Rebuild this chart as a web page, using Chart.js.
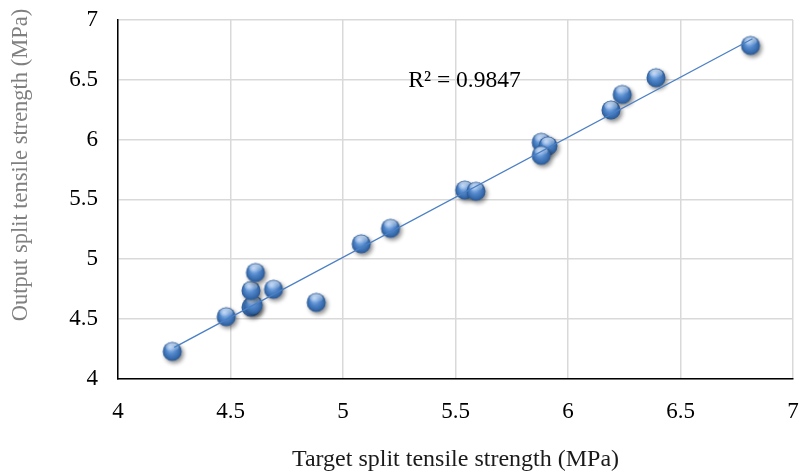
<!DOCTYPE html>
<html>
<head>
<meta charset="utf-8">
<script src="https://cdn.jsdelivr.net/npm/chart.js@4/dist/chart.umd.min.js"></script>
<style>
  html, body { margin: 0; padding: 0; background: #fff; overflow: hidden; }
  canvas { display: block; }
</style>
</head>
<body>
<canvas id="splitChart" width="800" height="472"></canvas>
<script>
// data
const targetVals = [4.25, 4.49, 4.60, 4.61, 4.60, 4.62, 4.70, 4.89, 5.09, 5.22, 5.55, 5.60, 5.89, 5.92, 5.89, 6.20, 6.25, 6.40, 6.82];
const outputVals = [4.21, 4.50, 4.58, 4.60, 4.72, 4.87, 4.73, 4.62, 5.11, 5.24, 5.56, 5.55, 5.96, 5.93, 5.85, 6.23, 6.36, 6.50, 6.77];
const axisTicks = [4, 4.5, 5, 5.5, 6, 6.5, 7];
const r2Label = "R² = 0.9847";
const yTitle = "Output split tensile strength (MPa)";

const serif = "'Liberation Serif', 'Times New Roman', serif";

// least squares trendline, from min to max x
function trend(xs, ys) {
    const n = xs.length;
    let sx = 0, sy = 0, sxx = 0, sxy = 0;
    for (let i = 0; i < n; i++) {
        sx += xs[i]; sy += ys[i]; sxx += xs[i] * xs[i]; sxy += xs[i] * ys[i];
    }
    const b = (n * sxy - sx * sy) / (n * sxx - sx * sx);
    const a = (sy - b * sx) / n;
    const lo = Math.min(...xs), hi = Math.max(...xs);
    return [{ x: lo, y: a + b * lo }, { x: hi, y: a + b * hi }];
}

// sphere-like marker
function makeBall() {
    const c = document.createElement("canvas");
    c.width = 30; c.height = 30;
    const g = c.getContext("2d");
    const cx = 13, cy = 13, r = 9.5;
    g.save();
    g.shadowColor = "rgba(0,0,0,0.45)";
    g.shadowBlur = 4;
    g.shadowOffsetX = 2;
    g.shadowOffsetY = 2.5;
    const grad = g.createRadialGradient(cx - 2, cy - 4, 1, cx, cy, r);
    grad.addColorStop(0, "#9cc0ee");
    grad.addColorStop(0.45, "#5288cc");
    grad.addColorStop(0.85, "#3467a8");
    grad.addColorStop(1, "#2a568f");
    g.fillStyle = grad;
    g.beginPath();
    g.arc(cx, cy, r, 0, Math.PI * 2);
    g.fill();
    g.restore();
    // highlight on top
    const h = g.createLinearGradient(0, cy - r, 0, cy);
    h.addColorStop(0, "rgba(255,255,255,0.75)");
    h.addColorStop(1, "rgba(255,255,255,0)");
    g.fillStyle = h;
    g.beginPath();
    g.ellipse(cx, cy - r * 0.45, r * 0.7, r * 0.45, 0, 0, Math.PI * 2);
    g.fill();
    return c;
}

const textPlugin = {
    id: "extraText",
    afterDatasetsDraw(chart) {
        const ctx = chart.ctx;
        const xs = chart.scales.x, ys = chart.scales.y;
        ctx.save();
        ctx.font = "23.5px " + serif;
        ctx.fillStyle = "#000";
        ctx.textAlign = "center";
        ctx.textBaseline = "middle";
        ctx.fillText(r2Label, xs.getPixelForValue(5.54), ys.getPixelForValue(6.49));
        // y axis title, sits a bit above the plot centre in the original
        ctx.translate(21, 165);
        ctx.rotate(-Math.PI / 2);
        ctx.font = "22.5px " + serif;
        ctx.fillStyle = "#808080";
        ctx.fillText(yTitle, 0, 0);
        ctx.restore();
    }
};

const points = targetVals.map((v, i) => ({ x: v, y: outputVals[i] }));

new Chart(document.getElementById("splitChart"), {
    type: "scatter",
    data: {
        datasets: [
            {
                type: "line",
                data: trend(targetVals, outputVals),
                borderColor: "#4a7fc4",
                borderWidth: 1.3,
                pointRadius: 0,
                fill: false,
                order: 0
            },
            {
                data: points,
                pointStyle: makeBall(),
                pointRadius: 10,
                order: 1
            }
        ]
    },
    options: {
        responsive: false,
        animation: false,
        layout: { autoPadding: false, padding: { left: 0, right: 7, top: 20, bottom: 0 } },
        plugins: {
            legend: { display: false },
            tooltip: { enabled: false }
        },
        scales: {
            x: {
                type: "linear",
                min: 4,
                max: 7,
                afterBuildTicks: s => { s.ticks = axisTicks.map(v => ({ value: v })); },
                afterFit: s => { s.height = 93.5; },
                ticks: {
                    color: "#000",
                    font: { family: serif, size: 23 },
                    padding: 0,
                    callback: v => String(v)
                },
                grid: { color: "#d9d9d9", lineWidth: 1.5, drawTicks: true, tickLength: 20, tickColor: "rgba(0,0,0,0)" },
                border: { color: "#000", width: 1.5 },
                title: {
                    display: true,
                    text: "Target split tensile strength (MPa)",
                    color: "#1a1a1a",
                    font: { family: serif, size: 24, lineHeight: 1.0 },
                    padding: { top: 0, bottom: 0 }
                }
            },
            y: {
                type: "linear",
                min: 4,
                max: 7,
                afterBuildTicks: s => { s.ticks = axisTicks.map(v => ({ value: v })); },
                afterFit: s => { s.width = 118; },
                ticks: {
                    color: "#000",
                    font: { family: serif, size: 23 },
                    padding: 0,
                    callback: v => String(v)
                },
                grid: { color: "#d9d9d9", lineWidth: 1.5, drawTicks: true, tickLength: 20, tickColor: "rgba(0,0,0,0)" },
                border: { color: "#000", width: 1.5 }
            }
        }
    },
    plugins: [textPlugin]
});
</script>
</body>
</html>
